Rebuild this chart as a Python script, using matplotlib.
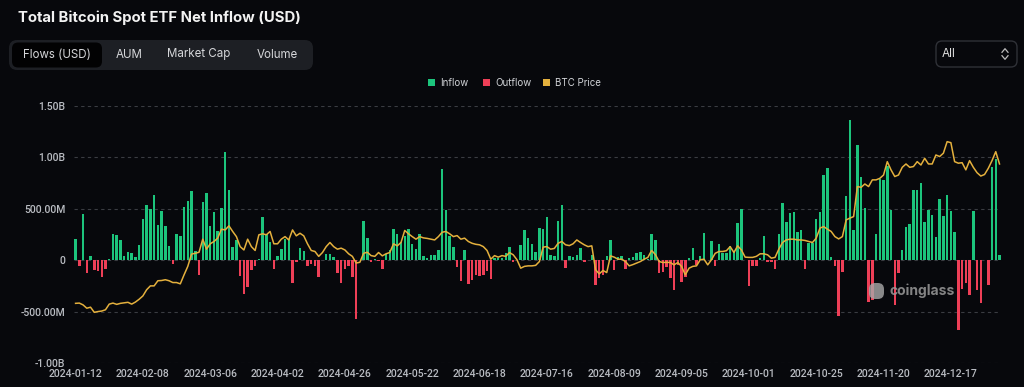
import matplotlib
matplotlib.use("Agg")
import matplotlib.pyplot as plt
from matplotlib.patches import FancyBboxPatch, Rectangle
from matplotlib.lines import Line2D
import numpy as np

# ---------------- data ----------------
# daily net flows, millions USD (one value per trading day)
flows_m = [
    204, -52, 453, -126, 45, -94, -107, -159, -81, 10, 256, 249, 197, 39, 78, 68, 32, 146, 405, 540,
    498, 634, 340, 479, 333, 136, -36, 252, 236, 521, 576, 676, 87, -142, 563, 650, 333, 472, 282, 508,
    1048, 686, 133, 200, -152, -327, -256, -94, -55, 13, 421, 256, 181, -84, 42, 110, 207, 207, -223, -19,
    123, 91, -55, -36, -55, -165, 0, 61, 61, 29, -120, -217, -84, -52, -159, -566, 0, 379, 217, -13,
    16, -3, -84, 58, 100, 304, 256, 181, 239, 304, 155, 107, 252, 45, 26, 49, 49, 100, 887, 489,
    236, 133, -61, -204, 97, -227, -191, -146, -152, -146, -104, -178, 26, 26, 19, 68, 129, -16, 0, 146,
    294, 220, 155, 78, 314, 301, 424, 55, 42, 385, 534, -78, 45, 29, 52, 117, -16, 0, 52, -239,
    -168, -146, 45, 197, -94, 29, 42, -81, 19, 36, 68, 84, 55, 10, 252, 197, -126, -110, -68, -175,
    -288, -45, -207, -159, 26, 117, -45, 42, 262, 0, 188, -55, 159, 68, 68, 139, 91, 366, 498, 0,
    -246, -55, -55, 26, 233, -13, -19, -81, 252, 557, 372, 456, 472, 272, 298, -81, 171, 171, 401, 472,
    828, 893, 32, -52, -537, -116, 621, 1362, 294, 1123, 812, 511, -401, -390, 256, 786, 780, 916, 489, -434,
    -120, 104, 320, 356, 683, 683, 747, 372, 489, 437, 223, 595, 430, 637, 482, 272, -673, -278, -223, -337,
    476, -288, -411, 0, -239, 909, 980, 49,
]

# BTC price, thousands USD
btc_k = [
    43.1, 43.2, 42.5, 41.2, 41.6, 39.6, 39.9, 40.1, 40.6, 42.8, 43.2, 42.7, 43.1, 43.3, 43.5, 42.8, 43.6, 44.7, 46.0, 48.4,
    49.9, 49.9, 51.9, 52.0, 52.3, 51.9, 51.2, 51.2, 50.7, 54.2, 57.5, 62.3, 62.6, 63.0, 68.1, 64.2, 66.3, 67.2, 68.5, 72.0,
    71.7, 73.3, 71.1, 69.1, 65.2, 63.9, 68.1, 65.2, 63.7, 69.8, 70.2, 69.8, 71.1, 66.3, 66.3, 68.1, 69.1, 67.8, 71.7, 69.4,
    70.4, 69.4, 66.3, 63.7, 63.3, 61.4, 62.9, 65.2, 66.8, 65.2, 64.2, 64.6, 63.9, 62.4, 61.4, 58.8, 59.1, 62.6, 63.0, 61.7,
    61.4, 62.9, 61.6, 62.4, 62.9, 66.3, 65.5, 66.8, 71.5, 70.2, 69.1, 68.1, 69.1, 68.6, 68.4, 68.1, 67.8, 69.1, 70.8, 71.1,
    70.2, 69.1, 69.5, 68.1, 68.5, 67.2, 66.5, 66.1, 65.9, 65.2, 63.7, 60.3, 61.7, 61.1, 61.7, 61.4, 62.9, 62.0, 60.1, 56.8,
    57.5, 57.7, 57.7, 57.9, 59.4, 65.0, 65.2, 64.2, 64.5, 66.5, 67.2, 65.9, 65.6, 66.3, 67.8, 66.8, 65.9, 65.2, 65.5, 56.2,
    54.6, 55.9, 55.1, 61.6, 61.1, 60.3, 60.3, 59.4, 57.7, 58.2, 58.8, 59.4, 60.3, 61.0, 63.7, 62.1, 59.4, 59.0, 59.1, 59.0,
    58.1, 59.0, 57.5, 54.2, 56.8, 57.5, 57.7, 60.1, 60.3, 58.1, 60.1, 62.6, 63.3, 63.3, 63.6, 65.2, 62.9, 65.5, 63.9, 61.1,
    61.0, 61.0, 61.4, 62.4, 62.4, 62.0, 60.7, 61.0, 64.2, 66.8, 67.8, 68.1, 68.1, 67.8, 67.8, 67.6, 67.2, 66.8, 68.5, 72.4,
    73.0, 72.0, 71.1, 69.1, 68.2, 69.1, 75.6, 76.3, 76.9, 88.6, 88.3, 89.6, 88.6, 91.2, 91.2, 91.8, 93.1, 98.3, 95.1, 92.5,
    93.1, 96.1, 97.4, 96.1, 96.4, 98.3, 97.0, 99.6, 97.4, 97.4, 100.9, 100.3, 101.6, 106.1, 105.7, 98.3, 97.7, 97.9, 95.1, 98.7,
    96.1, 94.0, 92.7, 93.3, 95.7, 98.7, 102.2, 97.4,
]

tick_labels = ["2024-01-12", "2024-02-08", "2024-03-06", "2024-04-02", "2024-04-26", "2024-05-22",
               "2024-06-18", "2024-07-16", "2024-08-09", "2024-09-05", "2024-10-01", "2024-10-25",
               "2024-11-20", "2024-12-17"]
tick_step = 18  # trading days between labelled dates

y_ticks = [-1.0e9, -0.5e9, 0, 0.5e9, 1.0e9, 1.5e9]
y_tick_labels = ["-1.00B", "-500.00M", "0", "500.00M", "1.00B", "1.50B"]

legend_labels = ["Inflow", "Outflow", "BTC Price"]

# ---------------- style ----------------
BG = "#07080c"
GREEN = "#1cc47c"
RED = "#ee3f57"
GOLD = "#e4b03d"
GRID = "#3a3c42"
TXT = "#b9bcc2"

fig = plt.figure(figsize=(10.24, 3.87), dpi=100, facecolor=BG)
W, H = 1024, 387

def fx(px):
    return px / W

def fy(py):
    return 1 - py / H

ax = fig.add_axes([fx(73.7), fy(363.3), fx(1001 - 73.7), fy(105.7) - fy(363.3)])
ax.set_facecolor(BG)

flows = np.array(flows_m) * 1e6
x = np.arange(len(flows))
colors = [GREEN if v >= 0 else RED for v in flows]
ax.bar(x, flows, width=0.66, color=colors, linewidth=0, zorder=2)

ax.set_xlim(-0.5, len(flows) - 0.6)
ax.set_ylim(-1.0e9, 1.5e9)
ax.set_yticks(y_ticks)
ax.set_yticklabels(y_tick_labels)
ax.set_xticks(np.arange(len(tick_labels)) * tick_step)
ax.set_xticklabels(tick_labels)
ax.grid(axis="y", color=GRID, linestyle=(0, (3, 3)), linewidth=0.8, zorder=0)
ax.grid(axis="x", visible=False)
for s in ax.spines.values():
    s.set_visible(False)
ax.tick_params(axis="both", length=0, colors=TXT, labelsize=7.5)
ax.tick_params(axis="y", pad=6)
ax.tick_params(axis="x", pad=4)
for lab in ax.get_xticklabels() + ax.get_yticklabels():
    lab.set_fontfamily("Roboto")
    lab.set_fontweight("medium")

ax2 = ax.twinx()
ax2.plot(x, btc_k, color=GOLD, linewidth=1.1, zorder=3)
ax2.set_ylim(19.74, 120.1)
ax2.axis("off")

# ---------------- header ----------------
fig.text(fx(18), fy(18), "Total Bitcoin Spot ETF Net Inflow (USD)", color="#f2f2f2",
         fontsize=10.7, fontweight="bold", family="Inter", va="center", ha="left")

grp = FancyBboxPatch((fx(9), fy(70)), fx(313 - 9), fy(40) - fy(70),
                     boxstyle="round,pad=0,rounding_size=0.008", transform=fig.transFigure,
                     facecolor="#1d1f24", edgecolor="none", mutation_aspect=W / H)
fig.add_artist(grp)
sel = FancyBboxPatch((fx(12), fy(67.5)), fx(102 - 12), fy(42.5) - fy(67.5),
                     boxstyle="round,pad=0,rounding_size=0.006", transform=fig.transFigure,
                     facecolor="#020203", edgecolor="none", mutation_aspect=W / H)
fig.add_artist(sel)
for label, cx in [("Flows (USD)", 57), ("AUM", 129), ("Market Cap", 199), ("Volume", 277)]:
    fig.text(fx(cx), fy(54.5), label, color="#d6d7da", fontsize=8.3, family="Inter",
             ha="center", va="center")

dd = FancyBboxPatch((fx(936), fy(67)), fx(1017 - 936), fy(41) - fy(67),
                    boxstyle="round,pad=0,rounding_size=0.006", transform=fig.transFigure,
                    facecolor=BG, edgecolor="#2f3137", linewidth=1.0, mutation_aspect=W / H)
fig.add_artist(dd)
fig.text(fx(942), fy(54), "All", color="#e0e0e0", fontsize=8.5, family="Inter", ha="left", va="center")
for sgn in (1, -1):
    yc = 54 - sgn * 3.5
    fig.add_artist(Line2D([fx(1002), fx(1005), fx(1008)],
                          [fy(yc + sgn * 1.8), fy(yc - sgn * 1.8), fy(yc + sgn * 1.8)],
                          transform=fig.transFigure, color="#bdbdbd", linewidth=0.9))

# ---------------- legend ----------------
for (label, col, sx) in zip(legend_labels, [GREEN, RED, GOLD], [428, 483, 543]):
    fig.add_artist(Rectangle((fx(sx), fy(86)), fx(7), fy(79) - fy(86),
                             transform=fig.transFigure, facecolor=col, edgecolor="none"))
    fig.text(fx(sx + 12), fy(82.5), label, color="#d0d2d6", fontsize=7, family="Inter",
             ha="left", va="center")

# ---------------- watermark ----------------
fig.text(fx(890), fy(291), "coinglass", color="#9a9a9a", fontsize=10, fontweight="bold",
         family="Inter", ha="left", va="center", alpha=0.85)
fig.add_artist(FancyBboxPatch((fx(869), fy(299)), fx(15), fy(283) - fy(299),
                              boxstyle="round,pad=0,rounding_size=0.006", transform=fig.transFigure,
                              facecolor="#a9a9a9", edgecolor="none", alpha=0.8, mutation_aspect=W / H))

fig.savefig("out.png", dpi=100, facecolor=BG)
